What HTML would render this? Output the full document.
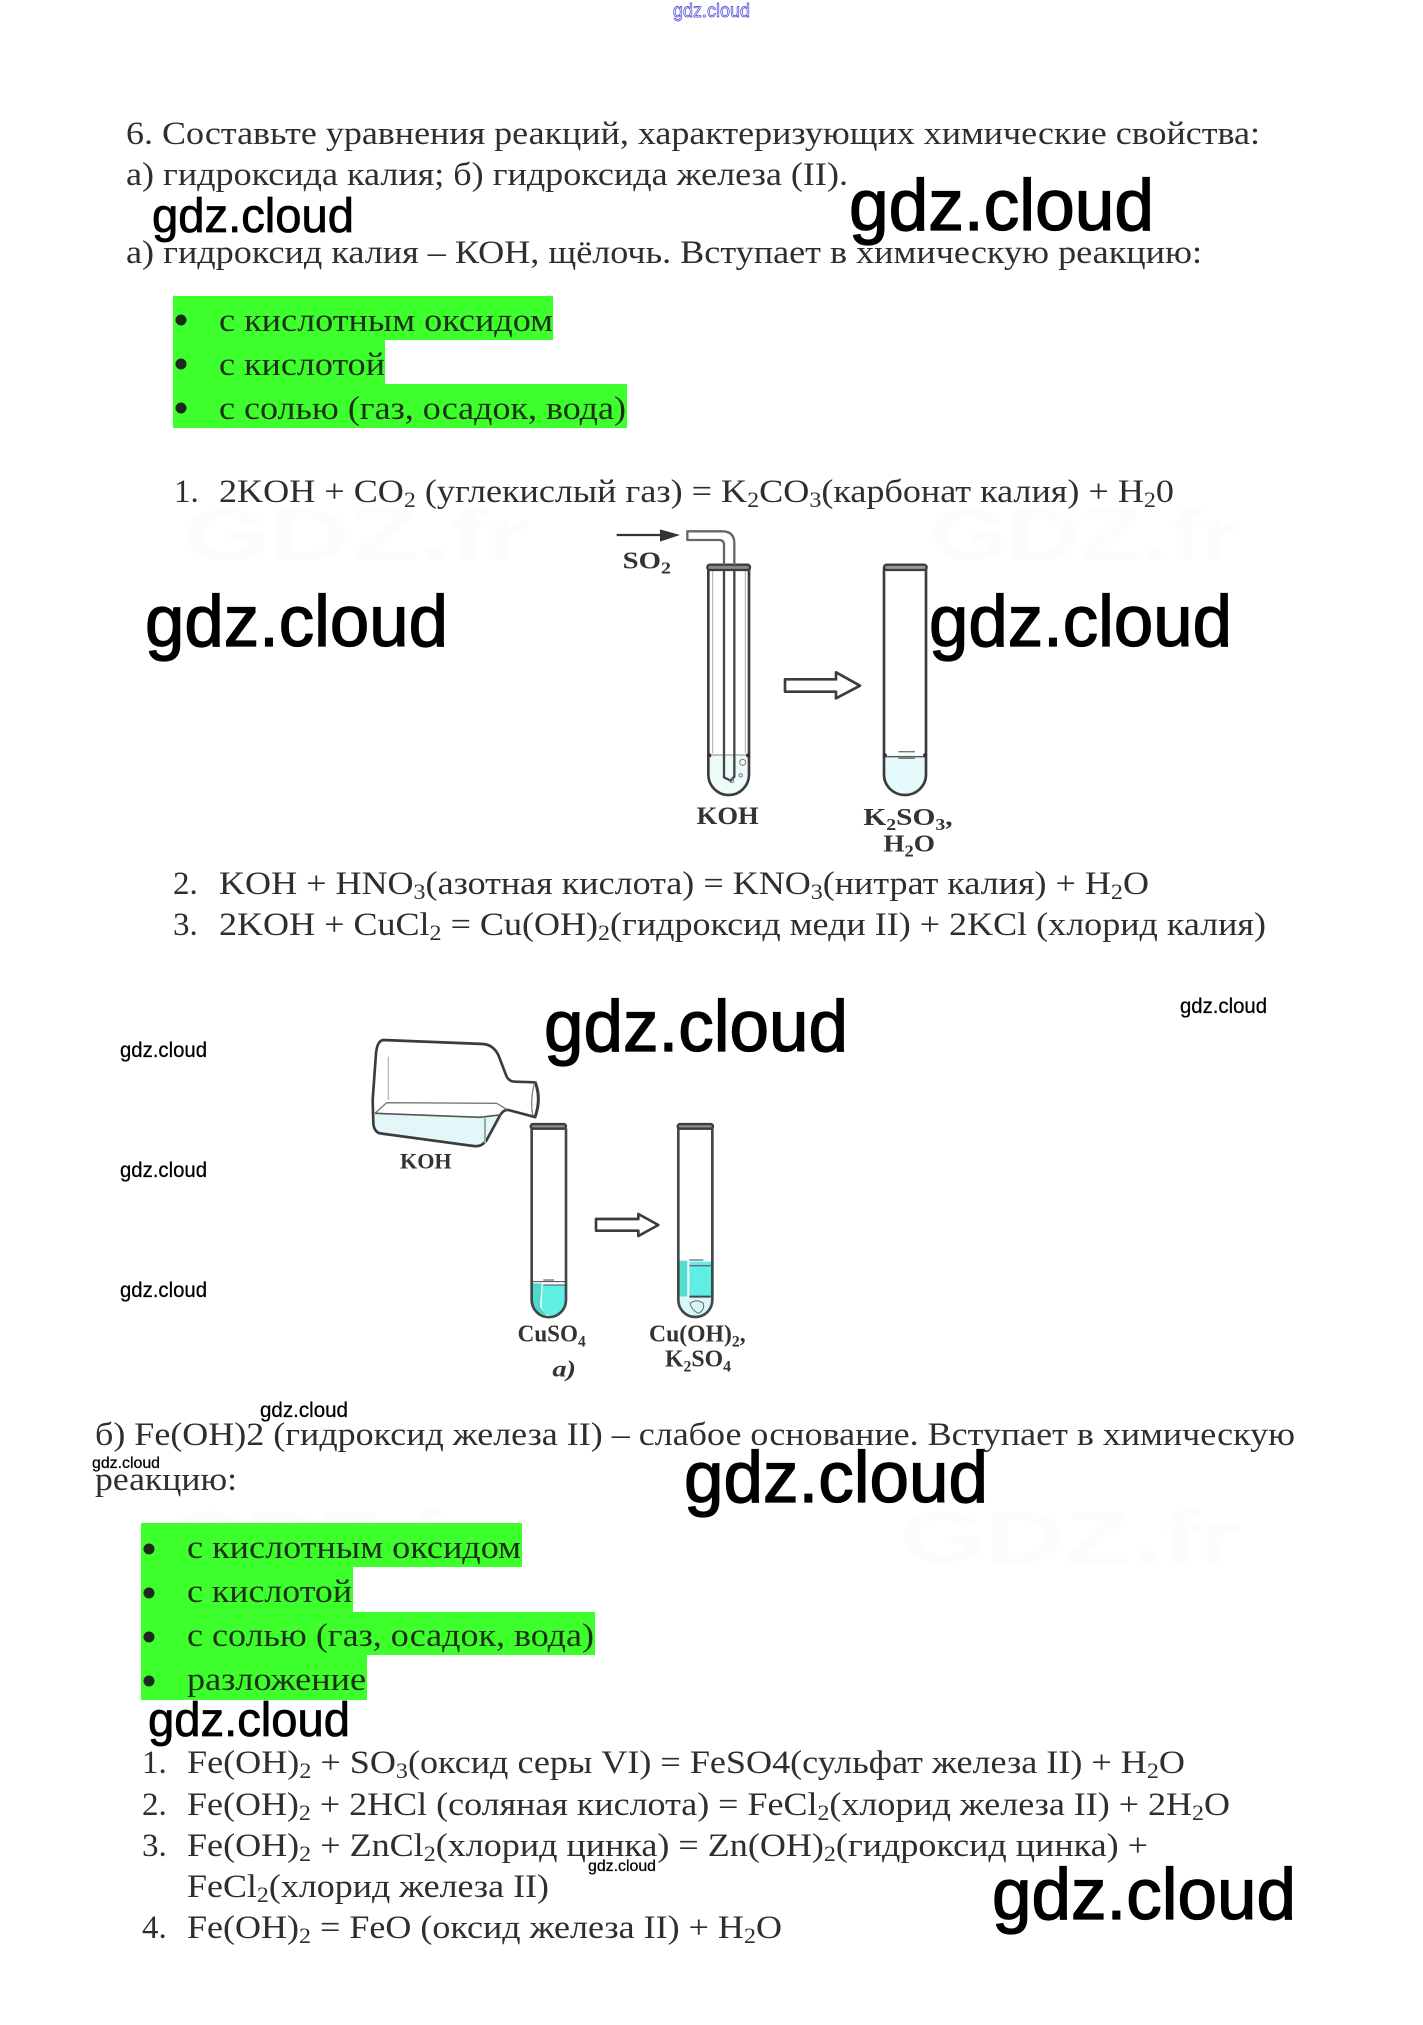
<!DOCTYPE html>
<html><head><meta charset="utf-8">
<style>
html,body{margin:0;padding:0;background:#fff;width:1423px;height:2025px;overflow:hidden}
svg{display:block}
.t{font-family:"Liberation Serif",serif;font-size:33px;fill:#2e2e2e}
.g{font-family:"Liberation Serif",serif;font-size:33px;fill:#1c3018}
.w{font-family:"Liberation Sans",sans-serif;fill:#000}
.k{font-family:"Liberation Sans",sans-serif;fill:#000;stroke:#000;stroke-width:1.3px}
.m{font-family:"Liberation Sans",sans-serif;fill:#000;stroke:#000;stroke-width:.8px}
.s{font-family:"Liberation Sans",sans-serif;fill:#000;stroke:#000;stroke-width:.25px}
.b{font-family:"Liberation Serif",serif;font-weight:bold;fill:#333}
.f{font-family:"Liberation Serif",serif;fill:#333}
.wm{font-family:"Liberation Sans",sans-serif;font-weight:bold;font-size:72px;fill:#fcfcfc}
</style></head><body>
<svg width="1423" height="2025" viewBox="0 0 1423 2025" xmlns="http://www.w3.org/2000/svg">
<rect width="1423" height="2025" fill="#fff"/>

<!-- faint watermarks -->
<text class="wm" x="183" y="560" textLength="347" lengthAdjust="spacingAndGlyphs">GDZ.fr</text>
<text class="wm" x="930" y="560" textLength="310" lengthAdjust="spacingAndGlyphs">GDZ.fr</text>
<text class="wm" x="170" y="1562" textLength="310" lengthAdjust="spacingAndGlyphs">GDZ.fr</text>
<text class="wm" x="899" y="1562" textLength="343" lengthAdjust="spacingAndGlyphs">GDZ.fr</text>

<!-- top mark -->
<text x="673" y="17" font-family="Liberation Sans,sans-serif" font-size="19" fill="#ffffff" stroke="#3a3ad8" stroke-width="0.7" textLength="77" lengthAdjust="spacingAndGlyphs">gdz.cloud</text>

<!-- green blocks -->
<g fill="#3dff2b">
<rect x="173" y="296" width="380" height="44"/>
<rect x="173" y="340" width="212" height="44"/>
<rect x="173" y="384" width="454" height="44"/>
<rect x="141" y="1523" width="381" height="44"/>
<rect x="141" y="1567" width="212" height="45"/>
<rect x="141" y="1612" width="454" height="43"/>
<rect x="141" y="1655" width="226" height="45"/>
</g>
<g fill="#1c2a1c">
<circle cx="181" cy="320" r="5.5"/><circle cx="181" cy="364" r="5.5"/><circle cx="181" cy="408" r="5.5"/>
<circle cx="149" cy="1549" r="5.5"/><circle cx="149" cy="1593" r="5.5"/><circle cx="149" cy="1637" r="5.5"/><circle cx="149" cy="1681" r="5.5"/>
</g>

<!-- body text -->
<text class="t" x="126" y="144" textLength="1134" lengthAdjust="spacingAndGlyphs">6. Составьте уравнения реакций, характеризующих химические свойства:</text>
<text class="t" x="126" y="185" textLength="722" lengthAdjust="spacingAndGlyphs">а) гидроксида калия; б) гидроксида железа (II).</text>
<text class="t" x="126" y="263" textLength="1076" lengthAdjust="spacingAndGlyphs">а) гидроксид калия – КОН, щёлочь. Вступает в химическую реакцию:</text>

<text class="g" x="219" y="331" textLength="334" lengthAdjust="spacingAndGlyphs">с кислотным оксидом</text>
<text class="g" x="219" y="375" textLength="166" lengthAdjust="spacingAndGlyphs">с кислотой</text>
<text class="g" x="219" y="419" textLength="407" lengthAdjust="spacingAndGlyphs">с солью (газ, осадок, вода)</text>

<text class="t" x="174" y="502">1.</text>
<text class="t" x="219" y="502" textLength="955" lengthAdjust="spacingAndGlyphs">2KOH + CO<tspan font-size="22" dy="5">2</tspan><tspan dy="-5"> (углекислый газ) = K</tspan><tspan font-size="22" dy="5">2</tspan><tspan dy="-5">CO</tspan><tspan font-size="22" dy="5">3</tspan><tspan dy="-5">(карбонат калия) + H</tspan><tspan font-size="22" dy="5">2</tspan><tspan dy="-5">0</tspan></text>

<text class="t" x="173" y="894">2.</text>
<text class="t" x="219" y="894" textLength="930" lengthAdjust="spacingAndGlyphs">KOH + HNO<tspan font-size="22" dy="5">3</tspan><tspan dy="-5">(азотная кислота) = KNO</tspan><tspan font-size="22" dy="5">3</tspan><tspan dy="-5">(нитрат калия) + H</tspan><tspan font-size="22" dy="5">2</tspan><tspan dy="-5">O</tspan></text>
<text class="t" x="173" y="935">3.</text>
<text class="t" x="219" y="935" textLength="1047" lengthAdjust="spacingAndGlyphs">2KOH + CuCl<tspan font-size="22" dy="5">2</tspan><tspan dy="-5"> = Cu(OH)</tspan><tspan font-size="22" dy="5">2</tspan><tspan dy="-5">(гидроксид меди II) + 2KCl (хлорид калия)</tspan></text>

<text class="t" x="95" y="1445" textLength="1200" lengthAdjust="spacingAndGlyphs">б) Fe(OH)2 (гидроксид железа II) – слабое основание. Вступает в химическую</text>
<text class="t" x="95" y="1490" textLength="142" lengthAdjust="spacingAndGlyphs">реакцию:</text>

<text class="g" x="187" y="1558" textLength="334" lengthAdjust="spacingAndGlyphs">с кислотным оксидом</text>
<text class="g" x="187" y="1602" textLength="165" lengthAdjust="spacingAndGlyphs">с кислотой</text>
<text class="g" x="187" y="1646" textLength="407" lengthAdjust="spacingAndGlyphs">с солью (газ, осадок, вода)</text>
<text class="g" x="187" y="1690" textLength="179" lengthAdjust="spacingAndGlyphs">разложение</text>

<text class="t" x="142" y="1773">1.</text>
<text class="t" x="187" y="1773" textLength="998" lengthAdjust="spacingAndGlyphs">Fe(OH)<tspan font-size="22" dy="5">2</tspan><tspan dy="-5"> + SO</tspan><tspan font-size="22" dy="5">3</tspan><tspan dy="-5">(оксид серы VI) = FeSO4(сульфат железа II) + H</tspan><tspan font-size="22" dy="5">2</tspan><tspan dy="-5">O</tspan></text>
<text class="t" x="142" y="1815" >2.</text>
<text class="t" x="187" y="1815" textLength="1043" lengthAdjust="spacingAndGlyphs">Fe(OH)<tspan font-size="22" dy="5">2</tspan><tspan dy="-5"> + 2HCl (соляная кислота) = FeCl</tspan><tspan font-size="22" dy="5">2</tspan><tspan dy="-5">(хлорид железа II) + 2H</tspan><tspan font-size="22" dy="5">2</tspan><tspan dy="-5">O</tspan></text>
<text class="t" x="142" y="1856">3.</text>
<text class="t" x="187" y="1856" textLength="961" lengthAdjust="spacingAndGlyphs">Fe(OH)<tspan font-size="22" dy="5">2</tspan><tspan dy="-5"> + ZnCl</tspan><tspan font-size="22" dy="5">2</tspan><tspan dy="-5">(хлорид цинка) = Zn(OH)</tspan><tspan font-size="22" dy="5">2</tspan><tspan dy="-5">(гидроксид цинка) +</tspan></text>
<text class="t" x="187" y="1897" textLength="362" lengthAdjust="spacingAndGlyphs">FeCl<tspan font-size="22" dy="5">2</tspan><tspan dy="-5">(хлорид железа II)</tspan></text>
<text class="t" x="142" y="1938">4.</text>
<text class="t" x="187" y="1938" textLength="595" lengthAdjust="spacingAndGlyphs">Fe(OH)<tspan font-size="22" dy="5">2</tspan><tspan dy="-5"> = FeO (оксид железа II) + H</tspan><tspan font-size="22" dy="5">2</tspan><tspan dy="-5">O</tspan></text>

<!-- figure 1 -->
<g transform="translate(600,510) scale(0.33333)" fill="none" stroke="#3c3c3c" stroke-width="8">
<path d="M325 735 H447 V794 A61 61 0 0 1 325 794 Z" fill="#ecfafa" stroke="none"/>
<path d="M852 735 H978 V794 A63 61 0 0 1 852 794 Z" fill="#e6f9fb" stroke="none"/>
<path d="M325 175 V794 A61 61 0 0 0 447 794 V175"/>
<path d="M338 180 V730" stroke="#aaa" stroke-width="3"/><path d="M436 180 V730" stroke="#aaa" stroke-width="3"/>
<path d="M852 175 V794 A63 61 0 0 0 978 794 V175"/>
<rect x="322" y="164" width="128" height="16" rx="8" fill="#888" stroke-width="7"/>
<rect x="852" y="164" width="128" height="16" rx="8" fill="#999" stroke-width="7"/>
<path d="M325 735 H447" stroke-width="3" stroke="#888"/>
<circle cx="328" cy="736" r="6" fill="#333" stroke="none"/><circle cx="444" cy="736" r="6" fill="#333" stroke="none"/>
<circle cx="855" cy="736" r="6" fill="#333" stroke="none"/><circle cx="975" cy="736" r="6" fill="#333" stroke="none"/>
<path d="M855 740 H975" stroke-width="4" stroke="#555"/>
<path d="M895 725 H945 M895 745 H945" stroke="#777" stroke-width="4"/>
<path d="M372 105 Q372 90 358 90 H262 V64 H366 Q403 64 403 100 V165 M372 105 V165" stroke="#666" stroke-width="7" stroke-linejoin="round"/>
<path d="M372 180 V802 L392 812 L403 800 V180" stroke="#444" stroke-width="7"/>
<circle cx="428" cy="757" r="9" stroke="#777" stroke-width="3"/>
<circle cx="422" cy="796" r="5" stroke="#777" stroke-width="3"/>
<circle cx="395" cy="812" r="6" stroke="#777" stroke-width="3"/>
<path d="M50 75 H190" stroke="#333" stroke-width="7"/>
<path d="M180 58 L240 75 L180 95 Z" fill="#333" stroke="none"/>
<path d="M555 508 H708 V487 L780 527 L708 565 V545 H555 Z" fill="#fff" stroke-width="8" stroke-linejoin="round"/>
</g>
<g transform="translate(600,510) scale(0.33333)">
<text class="b" x="68" y="175" font-size="72" textLength="145" lengthAdjust="spacingAndGlyphs">SO<tspan font-size="50" dy="15">2</tspan></text>
<text class="b" x="290" y="942" font-size="76" textLength="186" lengthAdjust="spacingAndGlyphs">KOH</text>
<text class="b" x="790" y="945" font-size="74" textLength="268" lengthAdjust="spacingAndGlyphs">K<tspan font-size="50" dy="15">2</tspan><tspan dy="-15">SO</tspan><tspan font-size="50" dy="15">3</tspan><tspan dy="-15">,</tspan></text>
<text class="b" x="850" y="1025" font-size="74" textLength="155" lengthAdjust="spacingAndGlyphs">H<tspan font-size="50" dy="15">2</tspan><tspan dy="-15">O</tspan></text>
</g>

<!-- figure 2 -->
<g transform="translate(350,1020) scale(0.33333)" fill="none" stroke="#3c3c3c" stroke-width="8" stroke-linejoin="round">
<path d="M74 282 L460 290 L405 372 Q390 382 370 378 L90 340 Q74 335 72 315 Z" fill="#e3f6f8" stroke="none"/>
<path d="M558 292 L475 270 Q458 268 445 295 L410 360 Q395 382 370 378 L90 340 Q72 335 70 310 L68 240 L78 100 Q82 62 100 60 L400 72 Q430 75 445 105 L470 170 Q478 185 495 185 L555 187"/>
<path d="M555 185 Q575 235 555 292" stroke-width="9"/>
<path d="M553 190 Q540 240 548 285" stroke="#888" stroke-width="4"/>
<path d="M75 280 L110 248 L440 250 L470 268" stroke="#777" stroke-width="4"/>
<path d="M75 280 L390 292 L455 284" stroke="#555" stroke-width="5"/>
<path d="M115 110 V240" stroke="#bbb" stroke-width="4"/>
<path d="M405 295 V370" stroke="#9a9" stroke-width="6"/>

<path d="M548 790 H575 L570 860 L590 885 Q560 885 548 850 Z" fill="#4fd8cc" stroke="none"/>
<path d="M578 795 H645 V840 A47 47 0 0 1 600 887 Q585 885 575 860 Z" fill="#5eeee2" stroke="none"/>
<path d="M545 325 V840 A51 51 0 0 0 648 840 V325" stroke="#3e4a4a"/>
<rect x="542" y="312" width="106" height="14" rx="7" fill="#888" stroke-width="7"/>
<path d="M580 780 H612 M580 795 H645" stroke="#668" stroke-width="4"/>
<path d="M545 785 H648" stroke="#444" stroke-width="3"/>

<path d="M988 722 H1012 V830 H988 Z" fill="#55ddd2" stroke="none"/>
<path d="M1018 725 H1084 V830 H1018 Z" fill="#5eeee2" stroke="none"/>
<path d="M988 830 H1084 V840 A47 47 0 0 1 988 840 Z" fill="#d8f7f4" stroke="none"/>
<path d="M985 325 V840 A51 51 0 0 0 1087 840 V325" stroke="#3e4a4a"/>
<rect x="983" y="312" width="106" height="14" rx="7" fill="#888" stroke-width="7"/>
<path d="M1018 720 H1060 M1018 737 H1084" stroke="#668" stroke-width="4"/>
<path d="M1018 830 H1082" stroke="#445" stroke-width="6"/>
<path d="M1020 850 Q1040 835 1060 850 Q1065 870 1045 880 Q1025 870 1020 850" stroke="#667" stroke-width="3"/>

<path d="M738 597 H865 V582 L925 615 L865 648 V632 H738 Z" fill="#fff" stroke-width="8"/>
</g>
<g transform="translate(350,1020) scale(0.33333)">
<text class="b" x="150" y="445" font-size="68" textLength="155" lengthAdjust="spacingAndGlyphs">KOH</text>
<text class="f" x="503" y="965" font-size="72" font-weight="bold" textLength="204" lengthAdjust="spacingAndGlyphs">CuSO<tspan font-size="48" dy="15">4</tspan></text>
<text class="f" x="607" y="1070" font-size="70" font-style="italic" font-weight="bold" textLength="71" lengthAdjust="spacingAndGlyphs">a)</text>
<text class="f" x="897" y="965" font-size="72" font-weight="bold" textLength="290" lengthAdjust="spacingAndGlyphs">Cu(OH)<tspan font-size="48" dy="15">2</tspan><tspan dy="-15">,</tspan></text>
<text class="f" x="945" y="1040" font-size="72" font-weight="bold" textLength="198" lengthAdjust="spacingAndGlyphs">K<tspan font-size="48" dy="15">2</tspan><tspan dy="-15">SO</tspan><tspan font-size="48" dy="15">4</tspan></text>
</g>

<!-- gdz.cloud marks -->
<text class="m" x="152" y="232" font-size="48" textLength="202" lengthAdjust="spacingAndGlyphs">gdz.cloud</text>
<text class="k" x="849" y="230" font-size="72" textLength="305" lengthAdjust="spacingAndGlyphs">gdz.cloud</text>
<text class="k" x="145" y="646" font-size="72" textLength="303" lengthAdjust="spacingAndGlyphs">gdz.cloud</text>
<text class="k" x="929" y="646" font-size="72" textLength="303" lengthAdjust="spacingAndGlyphs">gdz.cloud</text>
<text class="k" x="544" y="1051" font-size="72" textLength="304" lengthAdjust="spacingAndGlyphs">gdz.cloud</text>
<text class="s" x="1180" y="1013" font-size="21" textLength="87" lengthAdjust="spacingAndGlyphs">gdz.cloud</text>
<text class="s" x="120" y="1057" font-size="21" textLength="87" lengthAdjust="spacingAndGlyphs">gdz.cloud</text>
<text class="s" x="120" y="1177" font-size="21" textLength="87" lengthAdjust="spacingAndGlyphs">gdz.cloud</text>
<text class="s" x="120" y="1297" font-size="21" textLength="87" lengthAdjust="spacingAndGlyphs">gdz.cloud</text>
<text class="s" x="260" y="1417" font-size="21" textLength="88" lengthAdjust="spacingAndGlyphs">gdz.cloud</text>
<text class="s" x="92" y="1468" font-size="16" textLength="68" lengthAdjust="spacingAndGlyphs">gdz.cloud</text>
<text class="k" x="684" y="1502" font-size="72" textLength="304" lengthAdjust="spacingAndGlyphs">gdz.cloud</text>
<text class="m" x="148" y="1736" font-size="48" textLength="202" lengthAdjust="spacingAndGlyphs">gdz.cloud</text>
<text class="s" x="588" y="1871" font-size="16" textLength="68" lengthAdjust="spacingAndGlyphs">gdz.cloud</text>
<text class="k" x="992" y="1919" font-size="72" textLength="304" lengthAdjust="spacingAndGlyphs">gdz.cloud</text>
</svg>
</body></html>
